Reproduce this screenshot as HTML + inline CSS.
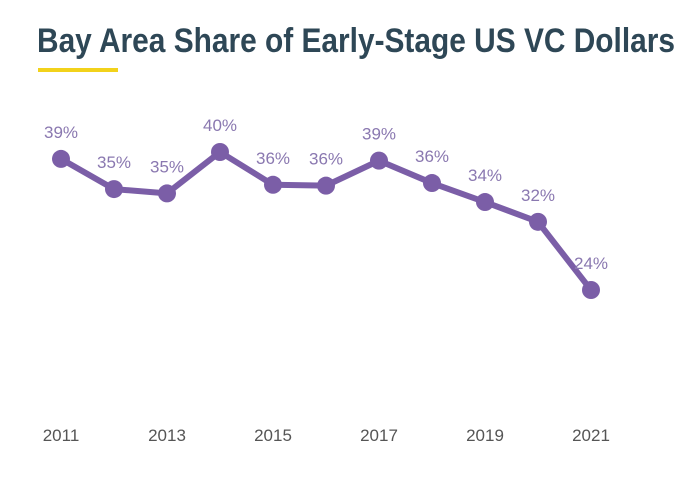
<!DOCTYPE html>
<html><head><meta charset="utf-8"><style>
body{margin:0;background:#fff;width:695px;height:481px;overflow:hidden}
svg{display:block}
</style></head><body>
<svg id="chart" width="695" height="481">
<text x="37" y="52" font-family="'Liberation Sans Narrow','Liberation Sans',sans-serif" font-weight="bold" font-size="34" fill="#2e4756" textLength="638" lengthAdjust="spacingAndGlyphs">Bay Area Share of Early-Stage US VC Dollars</text>
<rect x="38" y="68" width="80" height="4" fill="#f2d21b"/>
<g id="marks"></g>
</svg>
<script>
const years = [2011,2012,2013,2014,2015,2016,2017,2018,2019,2020,2021];
const shares = [39.2,35.7,35.2,40,36.2,36.1,39.0,36.4,34.2,31.9,24];
const shareLabels = ["39%","35%","35%","40%","36%","36%","39%","36%","34%","32%","24%"];
const tickYears = [2011,2013,2015,2017,2019,2021];
const NS="http://www.w3.org/2000/svg";
function xPos(yr){return 61+(yr-2011)*53;}
function yPos(v){return 290-(v-24)*8.625;}
const g=document.getElementById('marks');
function mk(t,a){const e=document.createElementNS(NS,t);for(const k in a)e.setAttribute(k,a[k]);g.appendChild(e);return e;}
const pts=years.map((y,i)=>xPos(y)+","+yPos(shares[i])).join(" ");
const line=mk('polyline',{points:pts,fill:'none',stroke:'#7b5ea7','stroke-width':6,'stroke-linejoin':'round'});


years.forEach((y,i)=>{
  const c=mk('circle',{cx:xPos(y),cy:yPos(shares[i]),r:9,fill:'#7b5ea7'});
  
  
  const t=mk('text',{x:xPos(y),y:yPos(shares[i])-21,'text-anchor':'middle','font-family':'Liberation Sans, sans-serif','font-size':17,fill:'#8a78b0'});
  t.textContent=shareLabels[i];
  
  
});
tickYears.forEach(y=>{
  const t=mk('text',{x:xPos(y),y:441,'text-anchor':'middle','font-family':'Liberation Sans, sans-serif','font-size':17,fill:'#555'});
  t.textContent=y;
  
  
});
</script>
</body></html>
